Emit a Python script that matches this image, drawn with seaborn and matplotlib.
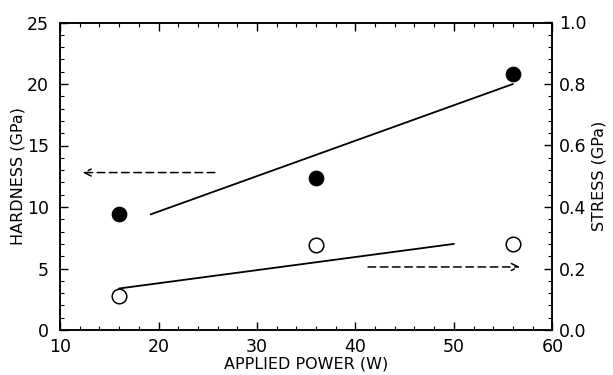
import matplotlib
matplotlib.use("Agg")
import matplotlib.pyplot as plt
import seaborn as sns
from matplotlib.ticker import MultipleLocator, FormatStrFormatter

sns.set_style("ticks")
plt.rcParams['font.family'] = ['DejaVu Sans']
plt.rcParams['text.color'] = 'black'
plt.rcParams['axes.labelcolor'] = 'black'
plt.rcParams['xtick.color'] = 'black'
plt.rcParams['ytick.color'] = 'black'
plt.rcParams['axes.edgecolor'] = 'black'

power = [16, 36, 56]
hardness = [9.4, 12.35, 20.8]
stress = [0.11, 0.275, 0.28]
hard_fit_x = [19.2, 56]
hard_fit_y = [9.4, 20.0]
stress_fit_x = [16, 50]
stress_fit_y = [0.135, 0.28]

fig = plt.figure(figsize=(6.13, 3.75), dpi=100)
ax = fig.add_axes([0.098, 0.12, 0.803, 0.82])
ax2 = ax.twinx()

sns.lineplot(x=hard_fit_x, y=hard_fit_y, ax=ax, color='black', lw=1.3)
sns.scatterplot(x=power, y=hardness, ax=ax, color='black', s=110, edgecolor='black', zorder=3)
sns.lineplot(x=stress_fit_x, y=stress_fit_y, ax=ax2, color='black', lw=1.3)
sns.scatterplot(x=power, y=stress, ax=ax2, facecolor='white', s=110, edgecolor='black', linewidth=1.1, zorder=3)

# arrows indicating which axis each series uses
ax.annotate('', xy=(12, 12.8), xytext=(26, 12.8),
            arrowprops=dict(arrowstyle='->,head_length=0.5,head_width=0.25',
                            linestyle=(0, (5, 3)), color='black', lw=1.1))
ax2.annotate('', xy=(57, 0.205), xytext=(41, 0.205),
             arrowprops=dict(arrowstyle='->,head_length=0.5,head_width=0.25',
                             linestyle=(0, (5, 3)), color='black', lw=1.1))

ax.set_xlim(10, 60)
ax.set_ylim(0, 25)
ax2.set_ylim(0, 1.0)
ax.xaxis.set_major_locator(MultipleLocator(10))
ax.xaxis.set_minor_locator(MultipleLocator(2))
ax.yaxis.set_major_locator(MultipleLocator(5))
ax.yaxis.set_minor_locator(MultipleLocator(1))
ax2.yaxis.set_major_locator(MultipleLocator(0.2))
ax2.yaxis.set_minor_locator(MultipleLocator(0.04))
ax2.yaxis.set_major_formatter(FormatStrFormatter('%.1f'))

ax.tick_params(axis='x', which='both', direction='in', top=True, labelsize=12.5, pad=6)
ax.tick_params(axis='y', which='both', direction='in', right=False, labelsize=12.5, pad=8)
ax2.tick_params(axis='y', which='both', direction='in', labelsize=12.5, pad=5)
for a in (ax, ax2):
    a.tick_params(which='major', length=6, width=1)
    a.tick_params(which='minor', length=3, width=0.8)
    for s in a.spines.values():
        s.set_visible(True)
        s.set_linewidth(1.1)
        s.set_color('black')

ax.set_xlabel('APPLIED POWER (W)', fontsize=11.5, labelpad=0)
ax.set_ylabel('HARDNESS (GPa)', fontsize=11.5, labelpad=1)
ax2.set_ylabel('STRESS (GPa)', fontsize=11.5, labelpad=3)

fig.savefig('out.png', dpi=100)
